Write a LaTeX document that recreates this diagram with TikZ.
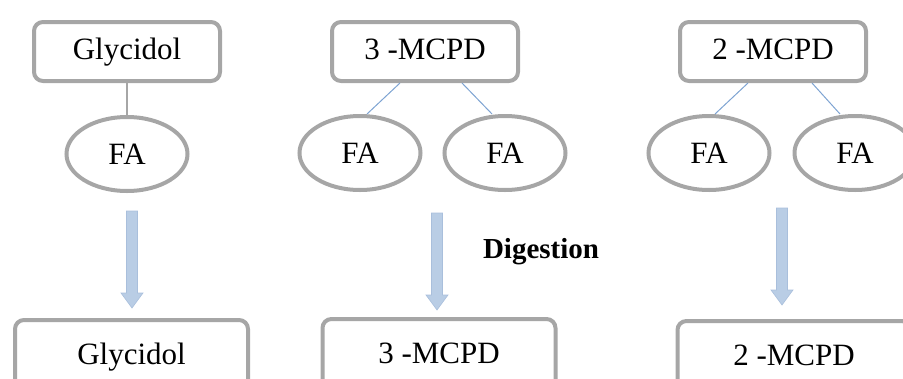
\documentclass[tikz,border=0pt]{standalone}
\usepackage{fontspec}
\setmainfont{Liberation Serif}
\usetikzlibrary{shapes.geometric}
\definecolor{boxgray}{HTML}{A6A6A6}
\definecolor{linkblue}{HTML}{7EA3D2}
\definecolor{arrfill}{HTML}{B9CDE5}
\definecolor{arredge}{HTML}{A9BFDC}
\tikzset{
  compbox/.style={draw=boxgray, line width=4pt, rounded corners=9pt, fill=white,
    minimum width=186pt, minimum height=59pt, inner sep=0pt,
    font=\fontsize{31}{34}\selectfont, text height=21pt, text depth=6pt},
  prodbox/.style={compbox, minimum width=233pt, minimum height=74pt},
  fa/.style={draw=boxgray, line width=4pt, ellipse, minimum width=121pt, minimum height=74pt,
    inner sep=0pt, font=\fontsize{31}{34}\selectfont, text height=21pt, text depth=0pt},
  graylink/.style={draw=boxgray, line width=1.5pt},
  bluelink/.style={draw=linkblue, line width=1pt},
  bigarrow/.style={fill=arrfill, draw=arredge, line width=0.6pt},
  lbl/.style={font=\fontsize{29}{32}\selectfont\bfseries}
}
\begin{document}
\begin{tikzpicture}[x=1pt, y=-1pt]
\useasboundingbox (0,0) rectangle (903,378);
\clip (0,0) rectangle (903,378);
% top compounds
\node[compbox] (g1) at (127,51.5) {Glycidol};
\node[compbox] (m3) at (425,51.5) {3 -MCPD};
\node[compbox] (m2) at (773,51.5) {2 -MCPD};
% fatty acids
\node[fa] (fa1) at (127,154) {FA};
\node[fa] (fa3a) at (360,153) {FA};
\node[fa] (fa3b) at (505,153) {FA};
\node[fa] (fa2a) at (709,153) {FA};
\node[fa] (fa2b) at (855,153) {FA};
% links
\draw[graylink] (g1.south) -- (fa1.north);
\draw[bluelink] ([xshift=-25pt]m3.south) -- ([xshift=7pt]fa3a.north);
\draw[bluelink] ([xshift=37pt]m3.south) -- ([xshift=-13pt]fa3b.north);
\draw[bluelink] ([xshift=-25pt]m2.south) -- ([xshift=6pt]fa2a.north);
\draw[bluelink] ([xshift=39pt]m2.south) -- ([xshift=-15pt]fa2b.north);
% arrows
\coordinate (a1) at (132,211);
\coordinate (a2) at (437,213);
\coordinate (a3) at (782,208);
\path[bigarrow] (a1) ++(-5.5,0) -- ++(0,82) -- ++(-5.5,0) -- ++(11,15) -- ++(11,-15) -- ++(-5.5,0) -- ++(0,-82) -- cycle;
\path[bigarrow] (a2) ++(-5.5,0) -- ++(0,82) -- ++(-5.5,0) -- ++(11,15) -- ++(11,-15) -- ++(-5.5,0) -- ++(0,-82) -- cycle;
\path[bigarrow] (a3) ++(-5.5,0) -- ++(0,82) -- ++(-5.5,0) -- ++(11,15) -- ++(11,-15) -- ++(-5.5,0) -- ++(0,-82) -- cycle;
\node[lbl] (dig) at (541,252) {Digestion};
% products
\node[prodbox] (pg1) at (131.5,357) {Glycidol};
\node[prodbox] (pm3) at (439,356) {3 -MCPD};
\node[prodbox] (pm2) at (794,358) {2 -MCPD};
\end{tikzpicture}
\end{document}
